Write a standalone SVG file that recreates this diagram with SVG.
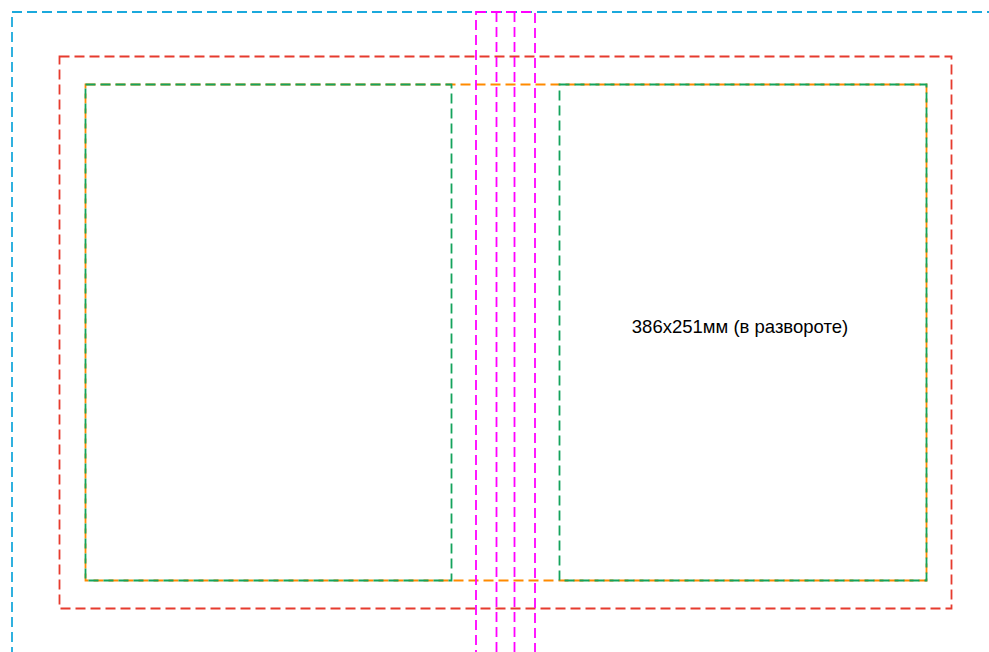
<svg xmlns="http://www.w3.org/2000/svg" width="989" height="652" viewBox="0 0 989 652">
<style>
.d{fill:none;stroke-width:1.8;stroke-dasharray:10 5}
.blue{stroke:#1ba9dc}
.red{stroke:#e63b2e}
.orange{stroke:#ff8a00}
.green{stroke:#14a35c}
.mag{stroke:#ff00ff}
.t{font-family:"Liberation Sans",Arial,sans-serif;font-size:18.5px;fill:#000}
</style>
<rect width="989" height="652" fill="#fff"/>
<g id="bleed"><rect class="d blue" x="12" y="12" width="1010" height="700"/></g>
<g id="trim"><rect class="d red" x="59.5" y="56.5" width="892" height="552"/></g>
<g id="spread"><rect class="d orange" x="85.5" y="84.5" width="841" height="496"/></g>
<g id="left-page"><rect class="d green" x="85.5" y="84.5" width="366" height="496"/></g>
<g id="right-page"><rect class="d green" x="559.5" y="84.5" width="367" height="496"/></g>
<g id="spine">
<rect class="d mag" x="476" y="12" width="59" height="700"/>
<line class="d mag" x1="496.5" y1="12" x2="496.5" y2="652"/>
<line class="d mag" x1="514.5" y1="12" x2="514.5" y2="652"/>
</g>
<g id="label"><text class="t" x="740" y="333" text-anchor="middle">386x251мм (в развороте)</text></g>
</svg>
